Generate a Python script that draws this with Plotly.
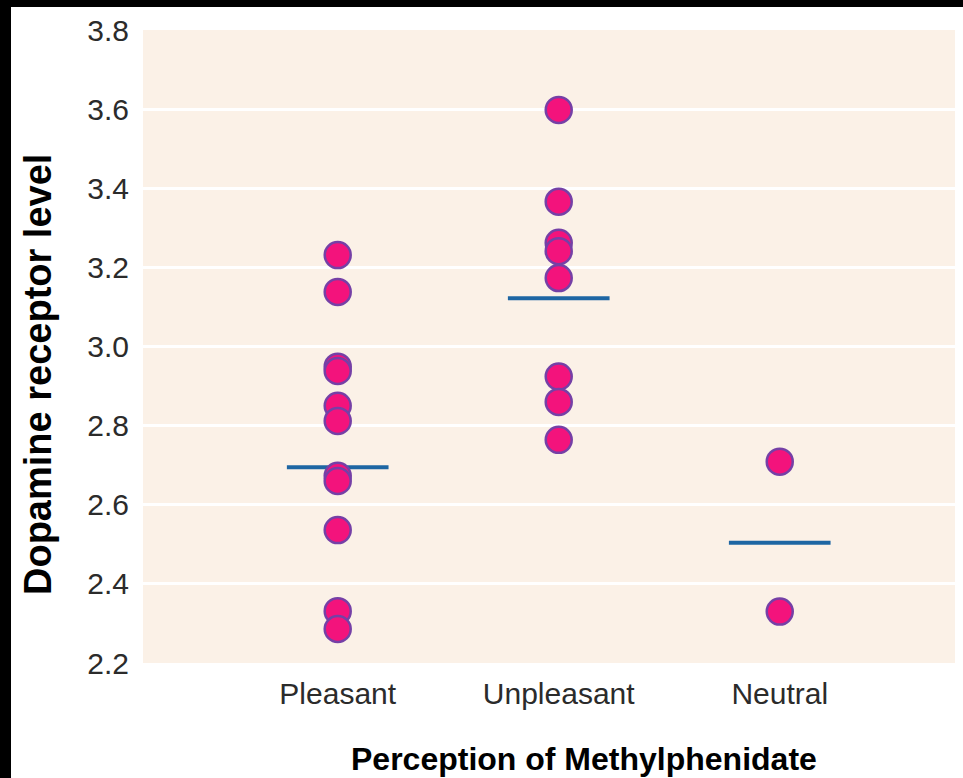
import plotly.graph_objects as go

# ---- data ----
categories = ["Pleasant", "Unpleasant", "Neutral"]
pleasant = [3.231, 3.138, 2.949, 2.938, 2.850, 2.812, 2.673, 2.660, 2.536, 2.331, 2.286]
unpleasant = [3.598, 3.366, 3.262, 3.241, 3.173, 2.924, 2.860, 2.764]
neutral = [2.709, 2.330]
group_means = [2.695, 3.122, 2.504]
y_ticks = [2.2, 2.4, 2.6, 2.8, 3.0, 3.2, 3.4, 3.6, 3.8]
x_title = "Perception of Methylphenidate"
y_title = "Dopamine receptor level"

groups = [pleasant, unpleasant, neutral]

W, H = 963, 778
ML, MR, MT, MB = 143, 8, 30, 115
PW, PH = W - ML - MR, H - MT - MB

fig = go.Figure()

# mean lines
half = 0.23
for i, m in enumerate(group_means):
    fig.add_trace(go.Scatter(
        x=[i - half, i + half], y=[m, m], mode="lines",
        line=dict(color="#1e66a3", width=4),
        showlegend=False, hoverinfo="skip"))

# individual points
for i, vals in enumerate(groups):
    fig.add_trace(go.Scatter(
        x=[i] * len(vals), y=vals, mode="markers",
        marker=dict(size=26, color="#f3137c",
                    line=dict(color="#7540a6", width=2.5)),
        name=categories[i], showlegend=False))

def px_x(p):
    return (p - ML) / PW

def px_y(p):
    return (H - MB - p) / PH

# black borders on top and left of the picture
shapes = [
    dict(type="rect", xref="paper", yref="paper",
         x0=px_x(-5), x1=px_x(W + 5), y0=px_y(7), y1=px_y(-5),
         fillcolor="black", line=dict(width=0), layer="above"),
    dict(type="rect", xref="paper", yref="paper",
         x0=px_x(-5), x1=px_x(11), y0=px_y(H + 5), y1=px_y(-5),
         fillcolor="black", line=dict(width=0), layer="above"),
]

annotations = [
    dict(text="<b>" + y_title + "</b>", textangle=-90,
         xref="paper", yref="paper", x=px_x(38), y=px_y(375),
         xanchor="center", yanchor="middle", showarrow=False,
         font=dict(size=38, color="black")),
    dict(text="<b>" + x_title + "</b>",
         xref="paper", yref="paper", x=px_x(584), y=px_y(779),
         xanchor="center", yanchor="bottom", showarrow=False,
         font=dict(size=32, color="black")),
]

fig.update_layout(
    width=W, height=H,
    margin=dict(l=ML, r=MR, t=MT, b=MB, autoexpand=False),
    paper_bgcolor="white",
    plot_bgcolor="#fbf1e7",
    font=dict(family="Liberation Sans, Arial, sans-serif", color="#2b2b2b"),
    shapes=shapes,
    annotations=annotations,
    xaxis=dict(
        range=[-0.881, 2.793],
        tickvals=list(range(len(categories))), ticktext=categories,
        tickfont=dict(size=30, color="#2b2b2b"),
        ticks="outside", ticklen=4, tickcolor="rgba(0,0,0,0)",
        showgrid=False, zeroline=False, showline=False,
        automargin=False,
    ),
    yaxis=dict(
        range=[2.2, 3.8],
        tickvals=y_ticks, tickformat=".1f",
        tickfont=dict(size=30, color="#2b2b2b"),
        ticks="outside", ticklen=7, tickcolor="rgba(0,0,0,0)",
        showgrid=True, gridcolor="white", gridwidth=3,
        zeroline=False, showline=False,
        automargin=False,
    ),
)

fig.write_html("out.html", config={"displayModeBar": False},
               post_script="document.body.style.margin='0';")
